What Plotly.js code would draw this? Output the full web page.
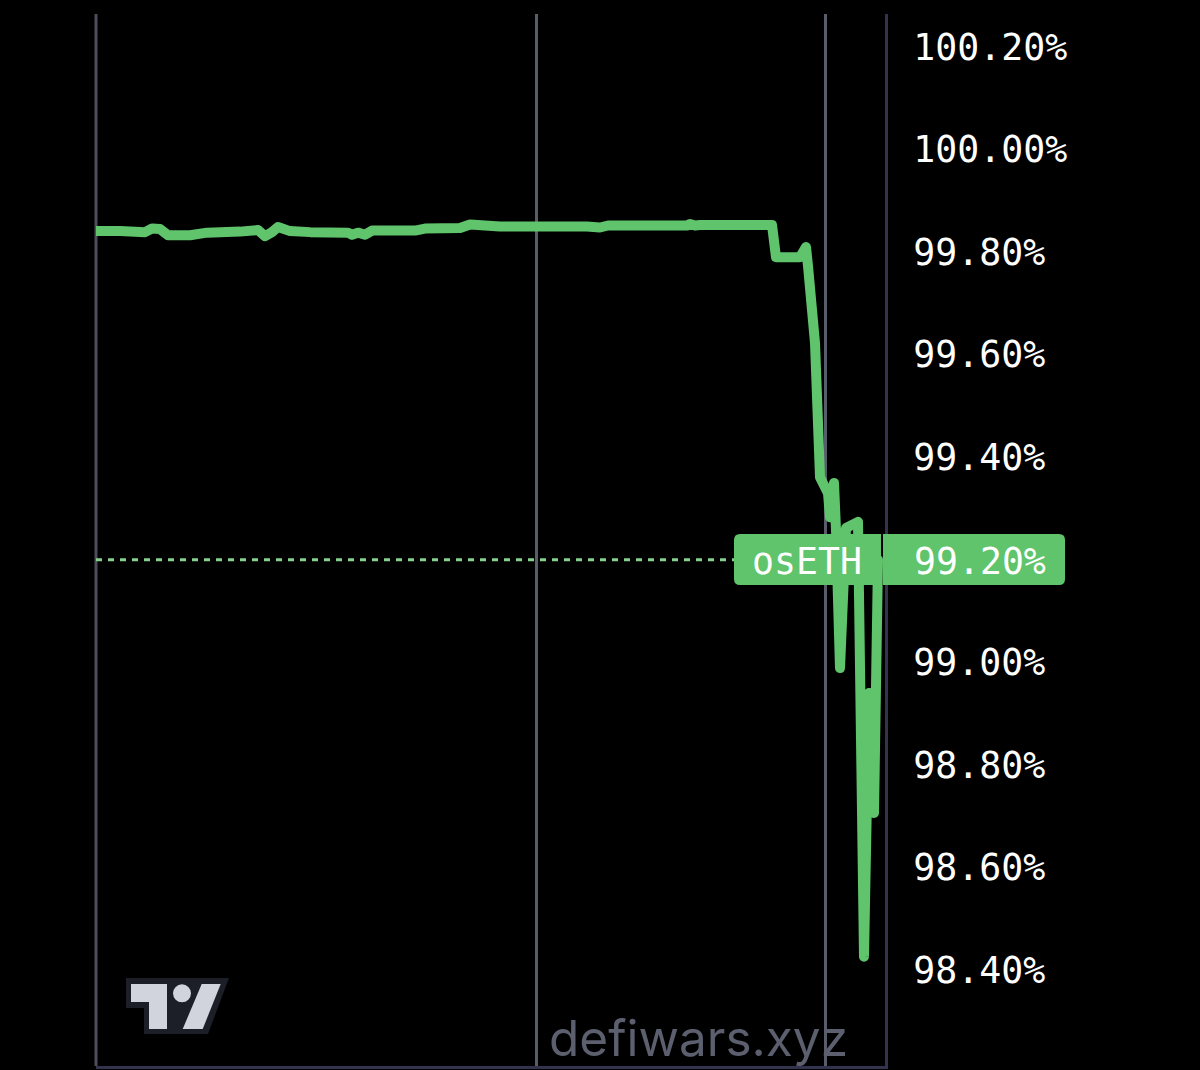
<!DOCTYPE html>
<html>
<head>
<meta charset="utf-8">
<script src="https://cdn.plot.ly/plotly-3.0.1.min.js"></script>
<style>
html,body{margin:0;padding:0;background:#000;}
#chart{width:1200px;height:1070px;}
.js-line{stroke-linecap:round;stroke-linejoin:round;}
.js-line[style*="dasharray"]{stroke-linecap:butt;}
</style>
</head>
<body>
<div id="chart"></div>
<script>
const seriesName = "osETH";
const pegX = [0,24,49,56,64,72,94,111,144,162,169,176,182,194,214,252,256,262,269,276,319,329,364,374,404,491,504,512,591,594,599,604,676,680,704,710,712,719,724,732,734,738,740,744,750,762,768,773,774,778,782];
const pegValues = [99.841,99.841,99.839,99.846,99.845,99.833,99.833,99.838,99.840,99.843,99.831,99.839,99.849,99.841,99.839,99.838,99.834,99.838,99.834,99.842,99.842,99.846,99.847,99.854,99.850,99.850,99.848,99.852,99.852,99.855,99.852,99.853,99.853,99.790,99.790,99.810,99.773,99.623,99.361,99.330,99.283,99.350,99.258,98.989,99.262,99.274,98.426,98.940,98.940,98.706,99.200];
const lastValue = 99.20;
const lastLabel = "99.20%";
const tickVals = [100.2,100.0,99.8,99.6,99.4,99.0,98.8,98.6,98.4];
const tickText = ["100.20%","100.00%","99.80%","99.60%","99.40%","99.00%","98.80%","98.60%","98.40%"];
const gridX = [440,729];
const xRange = [0,789];
const yRange = [98.2128,100.2644];
const watermark = "defiwars.xyz";

const GREEN = "#5fc46b";
const L=96,R=885,T=14,B=1066;
const px = x => (x-L)/(R-L);
const py = y => (B-y)/(B-T);
const poly = pts => pts.map((p,i)=>(i?"L":"M")+px(p[0])+","+py(p[1])).join(" ")+" Z";
function roundRect(x0,y0,x1,y1,r,rl,rr){
  const k = (x,y)=>px(x)+","+py(y);
  let d = "M"+k(x0+(rl?r:0),y0)+" L"+k(x1-(rr?r:0),y0);
  if(rr) d += " Q"+k(x1,y0)+" "+k(x1,y0+r)+" L"+k(x1,y1-r)+" Q"+k(x1,y1)+" "+k(x1-r,y1);
  else d += " L"+k(x1,y1);
  d += " L"+k(x0+(rl?r:0),y1);
  if(rl) d += " Q"+k(x0,y1)+" "+k(x0,y1-r)+" L"+k(x0,y0+r)+" Q"+k(x0,y0)+" "+k(x0+r,y0);
  else d += " L"+k(x0,y0);
  return d+" Z";
}
const paperShape = (path,fill)=>({type:"path",xref:"paper",yref:"paper",path,fillcolor:fill,line:{width:0},layer:"above"});

const traces = [
  {x:[xRange[0],gridX[1]],y:[lastValue,lastValue],mode:"lines",line:{color:"#86d090",width:3,dash:"6px 6px"},hoverinfo:"skip",showlegend:false},
  {x:pegX,y:pegValues,name:seriesName,mode:"lines",line:{color:GREEN,width:10,shape:"linear",simplify:false},showlegend:false}
];

const layout = {
  width:1200,height:1070,
  margin:{l:L,r:1200-R,t:T,b:1070-B,pad:0},
  paper_bgcolor:"#000",plot_bgcolor:"#000",
  showlegend:false,
  xaxis:{range:xRange,tickvals:gridX,showticklabels:false,ticks:"",showgrid:true,gridcolor:"#595c6b",gridwidth:3,zeroline:false,showline:true,linecolor:"#33334d",linewidth:3,mirror:false},
  yaxis:{range:yRange,side:"right",tickmode:"array",tickvals:tickVals,ticktext:tickText,showgrid:false,zeroline:false,showline:true,linecolor:"#33334d",linewidth:3,ticks:"outside",ticklen:18,tickcolor:"#000",tickwidth:0,
    tickfont:{family:"'DejaVu Sans Mono',monospace",size:36.5,color:"#ffffff"}},
  shapes:[
    {type:"line",xref:"paper",yref:"paper",x0:0,x1:0,y0:0,y1:1,line:{color:"#4b4d5c",width:3},layer:"below"},
    paperShape(roundRect(734,534,881,585,6,true,false),GREEN),
    paperShape(roundRect(883,534,1065,585,6,false,true),GREEN),
    paperShape(poly([[126,978],[229,978],[208,1034],[144,1034],[144,1008],[126,1008]]),"#1c1e28"),
    paperShape(poly([[131,984],[167,984],[167,1029],[149,1029],[149,1002],[131,1002]]),"#d1d4dc"),
    paperShape(poly([[201.7,984],[220.7,984],[202.7,1029],[182.7,1029]]),"#d1d4dc"),
    {type:"circle",xref:"paper",yref:"paper",x0:px(173),x1:px(191),y0:py(1002.3),y1:py(984.3),fillcolor:"#d1d4dc",line:{width:0},layer:"above"}
  ],
  annotations:[
    {xref:"paper",yref:"paper",x:px(750),y:py(561),xanchor:"left",yanchor:"middle",showarrow:false,text:seriesName,font:{family:"'DejaVu Sans Mono',monospace",size:36.5,color:"#fff"}},
    {xref:"paper",yref:"paper",x:px(912),y:py(561),xanchor:"left",yanchor:"middle",showarrow:false,text:lastLabel,font:{family:"'DejaVu Sans Mono',monospace",size:36.5,color:"#fff"}},
    {xref:"paper",yref:"paper",x:px(547),y:py(1038),xanchor:"left",yanchor:"middle",showarrow:false,text:watermark,font:{family:"Inter,'Liberation Sans',sans-serif",size:49.5,color:"#5b5f6e"}}
  ]
};
Plotly.newPlot("chart",traces,layout,{displayModeBar:false,staticPlot:true});
</script>
</body>
</html>
